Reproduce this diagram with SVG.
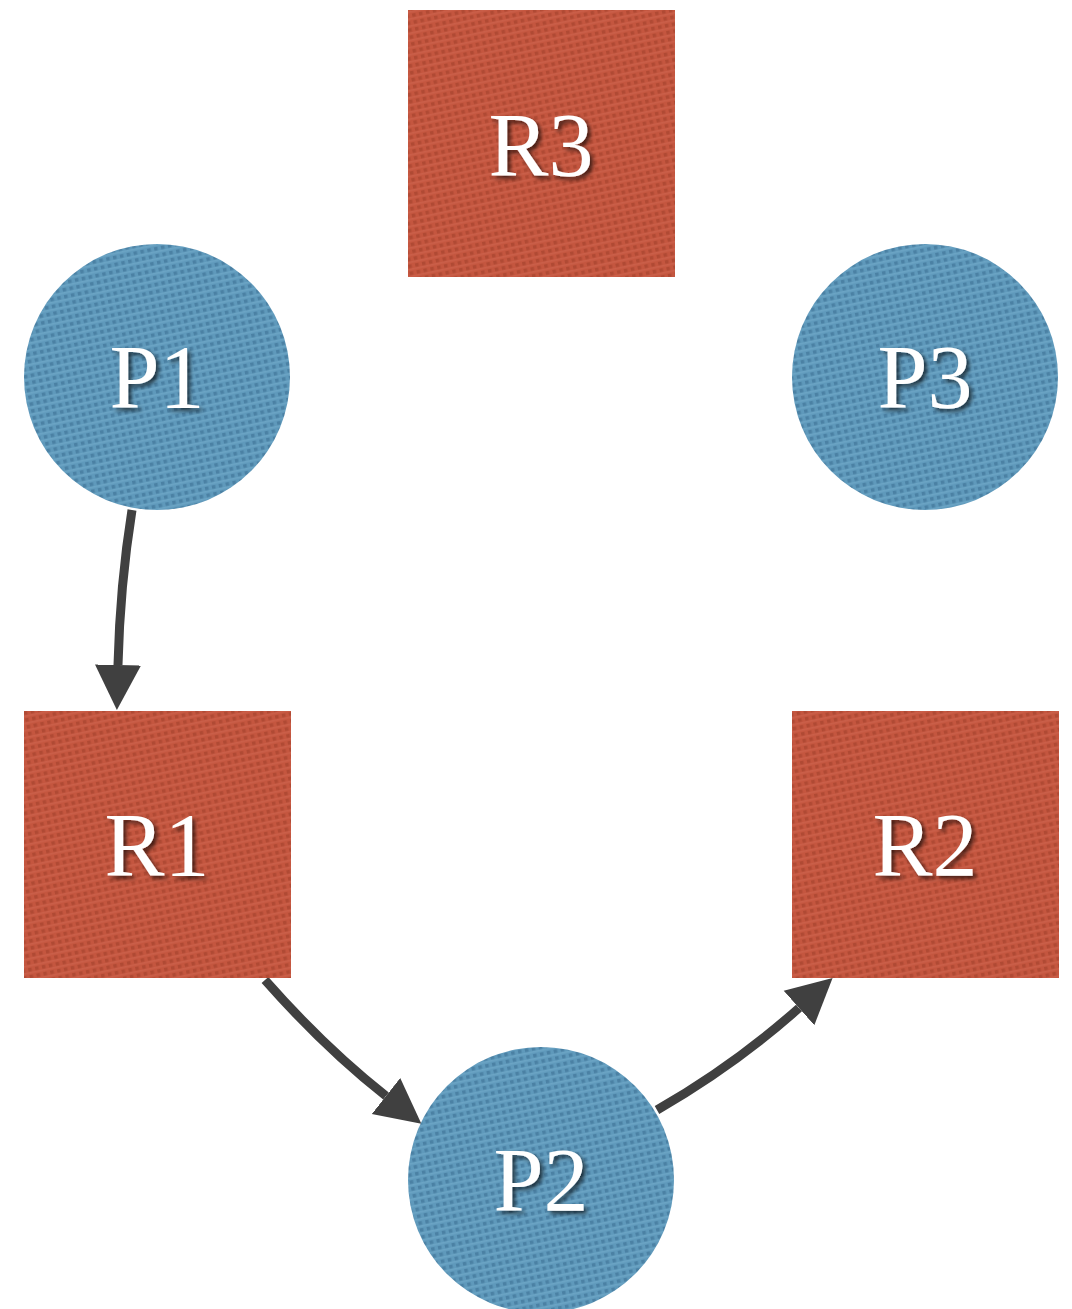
<svg xmlns="http://www.w3.org/2000/svg" width="1072" height="1309" viewBox="0 0 1072 1309">
<defs>
<pattern id="texR" width="7" height="7" patternUnits="userSpaceOnUse" patternTransform="rotate(-12)">
<rect width="7" height="7" fill="#c4563f"/>
<rect x="1" y="1" width="3.5" height="3.5" fill="#a9442f" opacity="0.7"/>
<rect x="0" y="5.3" width="7" height="1.2" fill="#d06a55" opacity="0.6"/>
</pattern>
<pattern id="texB" width="7" height="7" patternUnits="userSpaceOnUse" patternTransform="rotate(-12)">
<rect width="7" height="7" fill="#5f99bb"/>
<rect x="1" y="1" width="3.5" height="3.5" fill="#43779a" opacity="0.7"/>
<rect x="0" y="5.3" width="7" height="1.2" fill="#79b0cf" opacity="0.6"/>
</pattern>
<filter id="shadow" x="-20%" y="-20%" width="140%" height="140%">
<feDropShadow dx="3" dy="3" stdDeviation="2" flood-color="#000" flood-opacity="0.65"/>
</filter>
<marker id="arrow" markerUnits="userSpaceOnUse" markerWidth="50" markerHeight="50" viewBox="0 -25 50 50" refX="0" refY="0" orient="auto">
<path d="M0,-23 L45,0 L0,23 z" fill="#404040"/>
</marker>
</defs>
<style>
.res{fill:url(#texR);}
.proc{fill:url(#texB);}
.lbl{font-family:"Liberation Serif","Times New Roman",Times,serif;font-size:90px;fill:#fff;text-anchor:middle;filter:url(#shadow);}
.edge{fill:none;stroke:#404040;stroke-width:9;marker-end:url(#arrow);}
</style>
<rect width="1072" height="1309" fill="#fff"/>
<g id="connectors">
<path class="edge" d="M132,510 Q120,585 118,665"/>
<path class="edge" d="M265,980 Q325,1048 386,1096"/>
<path class="edge" d="M657,1110 Q735,1065 799,1008"/>
</g>
<g id="R3"><rect class="res" x="408" y="10" width="267" height="267"/><text class="lbl" x="541" y="176">R3</text></g>
<g id="P1"><circle class="proc" cx="157" cy="377" r="133"/><text class="lbl" x="157" y="408">P1</text></g>
<g id="P3"><circle class="proc" cx="925" cy="377" r="133"/><text class="lbl" x="925" y="408">P3</text></g>
<g id="R1"><rect class="res" x="24" y="711" width="267" height="267"/><text class="lbl" x="157" y="876">R1</text></g>
<g id="R2"><rect class="res" x="792" y="711" width="267" height="267"/><text class="lbl" x="925" y="876">R2</text></g>
<g id="P2"><circle class="proc" cx="541" cy="1180" r="133"/><text class="lbl" x="541" y="1211">P2</text></g>
</svg>
